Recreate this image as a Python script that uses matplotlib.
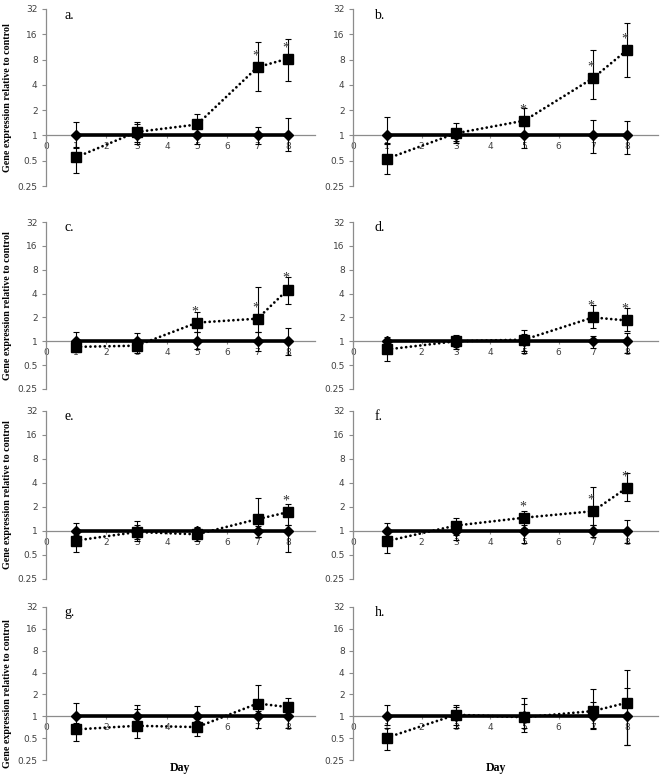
import matplotlib
matplotlib.use("Agg")
import matplotlib.pyplot as plt

panel_labels = ['a.', 'b.', 'c.', 'd.', 'e.', 'f.', 'g.', 'h.']
days = [1, 3, 5, 7, 8]
x_tick_labels = ['0', '1', '2', '3', '4', '5', '6', '7', '8']
y_ticks = [0.25, 0.5, 1, 2, 4, 8, 16, 32]
y_tick_labels = ['0.25', '0.5', '1', '2', '4', '8', '16', '32']

treat_mean = [
    [0.55, 1.10, 1.35, 6.5, 8.2],
    [0.53, 1.06, 1.50, 4.8, 10.4],
    [0.85, 0.88, 1.72, 1.93, 4.5],
    [0.79, 1.00, 1.05, 2.0, 1.83],
    [0.76, 0.97, 0.91, 1.41, 1.72],
    [0.75, 1.17, 1.47, 1.77, 3.5],
    [0.66, 0.74, 0.71, 1.50, 1.34],
    [0.51, 1.05, 0.97, 1.18, 1.54],
]
treat_low = [
    [0.36, 0.80, 0.95, 3.4, 4.45],
    [0.35, 0.82, 1.05, 2.75, 5.0],
    [0.75, 0.78, 1.31, 1.31, 2.93],
    [0.56, 0.80, 0.76, 1.45, 1.36],
    [0.54, 0.75, 0.75, 0.84, 1.20],
    [0.53, 0.90, 1.10, 1.18, 2.4],
    [0.46, 0.51, 0.53, 0.95, 1.00],
    [0.34, 0.77, 0.60, 0.66, 0.40],
]
treat_high = [
    [0.73, 1.45, 1.80, 13.0, 13.9],
    [0.82, 1.42, 2.10, 10.4, 21.6],
    [0.95, 1.00, 2.35, 4.9, 6.5],
    [0.90, 1.20, 1.40, 2.9, 2.6],
    [0.90, 1.34, 1.12, 2.6, 2.2],
    [0.95, 1.47, 1.79, 3.53, 5.3],
    [0.80, 1.25, 0.85, 2.7, 1.81],
    [0.70, 1.41, 1.80, 2.39, 4.35],
]
ctrl_mean = [
    [1, 1, 1, 1, 1],
    [1, 1, 1, 1, 1],
    [1, 1, 1, 1, 1],
    [1, 1, 1, 1, 1],
    [1, 1, 1, 1, 1],
    [1, 1, 1, 1, 1],
    [1, 1, 1, 1, 1],
    [1, 1, 1, 1, 1],
]
ctrl_low = [
    [0.70, 0.83, 0.80, 0.78, 0.65],
    [0.80, 0.85, 0.71, 0.62, 0.60],
    [0.73, 0.72, 0.80, 0.75, 0.67],
    [0.85, 0.85, 0.72, 0.83, 0.71],
    [0.80, 0.80, 0.85, 0.85, 0.55],
    [0.80, 0.78, 0.71, 0.85, 0.71],
    [0.75, 0.80, 0.80, 0.68, 0.68],
    [0.75, 0.70, 0.70, 0.70, 0.40],
]
ctrl_high = [
    [1.46, 1.35, 1.25, 1.27, 1.60],
    [1.67, 1.20, 1.30, 1.52, 1.47],
    [1.31, 1.27, 1.30, 1.30, 1.47],
    [1.14, 1.15, 1.25, 1.18, 1.26],
    [1.27, 1.20, 1.10, 1.15, 1.18],
    [1.27, 1.20, 1.20, 1.20, 1.36],
    [1.53, 1.45, 1.39, 1.20, 1.20],
    [1.43, 1.35, 1.49, 1.57, 2.47],
]
star_days = [[7, 8], [5, 7, 8], [5, 7, 8], [7, 8], [8], [5, 7, 8], [], []]

W, H = 661, 777
fig = plt.figure(figsize=(W / 100, H / 100), dpi=100)

col_x = [(46, 315), (353, 658)]
row_y = [(9, 186), (222, 389), (411, 579), (607, 760)]

serif = ['Liberation Serif', 'DejaVu Serif']
tick_color = '#404040'
spine_color = '#8c8c8c'

for i in range(8):
    r, c = divmod(i, 2)
    x0, x1 = col_x[c]
    t, b = row_y[r]
    ax = fig.add_axes([x0 / W, 1 - b / H, (x1 - x0) / W, (b - t) / H])
    ax.set_yscale('log', base=2)
    ax.set_ylim(0.25, 32)
    ax.set_xlim(0, 8.9)
    ax.set_yticks(y_ticks)
    ax.set_yticklabels(y_tick_labels)
    ax.minorticks_off()
    ax.set_xticks(range(len(x_tick_labels)))
    ax.set_xticklabels(x_tick_labels)
    for s in ['top', 'right']:
        ax.spines[s].set_visible(False)
    ax.spines['bottom'].set_position(('data', 1))
    for s in ['left', 'bottom']:
        ax.spines[s].set_color(spine_color)
        ax.spines[s].set_linewidth(0.9)
    ax.tick_params(axis='y', length=3, width=0.8, color=spine_color,
                   labelsize=6.5, labelcolor=tick_color, pad=3)
    ax.tick_params(axis='x', length=2, width=0.8, color=spine_color,
                   labelsize=6.5, labelcolor=tick_color, pad=3)
    for lab in ax.get_xticklabels() + ax.get_yticklabels():
        lab.set_zorder(1)

    cm = ctrl_mean[i]
    cerr = [[m - lo for m, lo in zip(cm, ctrl_low[i])],
            [hi - m for m, hi in zip(cm, ctrl_high[i])]]
    ax.errorbar(days, cm, yerr=cerr, fmt='-', color='black', lw=2.6,
                marker='D', ms=5, mfc='black', mec='black',
                ecolor='black', elinewidth=0.8, capsize=2.5, capthick=0.8,
                zorder=3)

    tm = treat_mean[i]
    terr = [[m - lo for m, lo in zip(tm, treat_low[i])],
            [hi - m for m, hi in zip(tm, treat_high[i])]]
    ax.errorbar(days, tm, yerr=terr, fmt='none',
                ecolor='black', elinewidth=0.8, capsize=2.5, capthick=0.8,
                zorder=4)
    ax.plot(days, tm, linestyle=(0, (0.01, 1.7)), dash_capstyle='round',
            color='black', lw=2.0, zorder=4)
    ax.plot(days, tm, linestyle='none', marker='s', ms=6.5,
            mfc='black', mec='black', zorder=5)

    for d in star_days[i]:
        k = days.index(d)
        ax.annotate('*', xy=(d, tm[k]), xytext=(-2, 11),
                    textcoords='offset pixels', ha='center', va='center',
                    fontsize=10, color='#303030', family=serif, zorder=6)

    ax.text(0.07, 0.965, panel_labels[i], transform=ax.transAxes,
            fontsize=10, family=serif, ha='left', va='center')

    if c == 0:
        yc = (t + b) / 2 if r < 3 else 694
        fig.text(8 / W, 1 - yc / H, 'Gene expression relative to control',
                 rotation=90, ha='center', va='center', fontsize=7.2,
                 fontweight='bold', family=serif)
    if r == 3:
        xc = 180 if c == 0 else 496
        fig.text(xc / W, 1 - 768 / H, 'Day', ha='center', va='center',
                 fontsize=8.5, fontweight='bold', family=serif)

fig.savefig('out.png', dpi=100)
